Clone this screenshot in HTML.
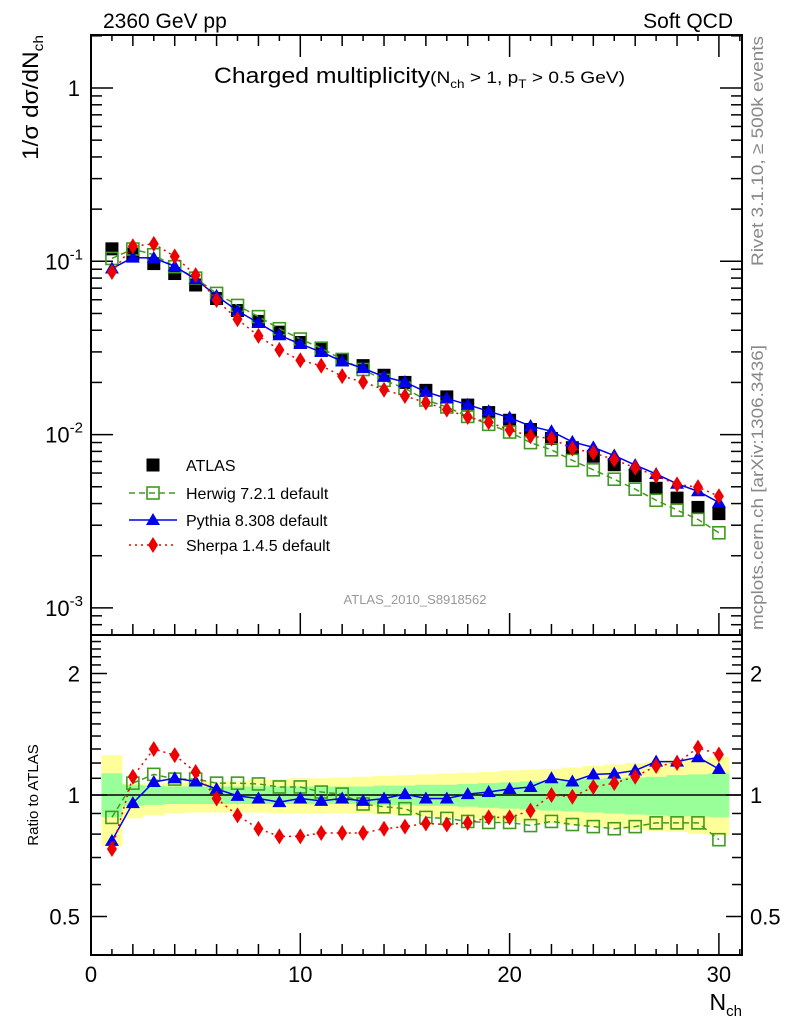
<!DOCTYPE html>
<html><head><meta charset="utf-8"><style>
html,body{margin:0;padding:0;background:#fff;}
svg{display:block;font-family:"Liberation Sans",sans-serif;}
</style></head><body>
<svg id="chart" width="786" height="1024" viewBox="0 0 786 1024" xmlns="http://www.w3.org/2000/svg">
<text x="103" y="28" font-size="21">2360 GeV pp</text>
<text x="733" y="28" font-size="21" text-anchor="end">Soft QCD</text>
<text transform="translate(38,160) rotate(-90)" font-size="22" textLength="125" lengthAdjust="spacingAndGlyphs">1/σ dσ/dN<tspan font-size="14" dy="5">ch</tspan></text>
<text x="214" y="83" font-size="22" textLength="411" lengthAdjust="spacingAndGlyphs">Charged multiplicity<tspan font-size="17">(N</tspan><tspan font-size="12" dy="5">ch</tspan><tspan font-size="17" dy="-5"> &gt; 1, p</tspan><tspan font-size="12" dy="5">T</tspan><tspan font-size="17" dy="-5"> &gt; 0.5 GeV)</tspan></text>
<text transform="translate(763,266) rotate(-90)" font-size="17" fill="#888" textLength="230" lengthAdjust="spacingAndGlyphs">Rivet 3.1.10, ≥ 500k events</text>
<text transform="translate(763,630) rotate(-90)" font-size="17" fill="#888" textLength="285" lengthAdjust="spacingAndGlyphs">mcplots.cern.ch [arXiv:1306.3436]</text>
<text x="415" y="604" font-size="13" fill="#999" text-anchor="middle">ATLAS_2010_S8918562</text>
<text transform="translate(38,795) rotate(-90)" font-size="15" text-anchor="middle">Ratio to ATLAS</text>
<text x="742" y="1010" font-size="23" text-anchor="end">N<tspan font-size="15" dy="6">ch</tspan></text>
<g id="bands"></g><g id="axes"></g><g id="series"></g><g id="legend"></g>
</svg>
<script>
const nch=[1,2,3,4,5,6,7,8,9,10,11,12,13,14,15,16,17,18,19,20,21,22,23,24,25,26,27,28,29,30];
const atlas=[0.118,0.110,0.097,0.085,0.073,0.061,0.052,0.045,0.039,0.034,0.031,0.027,0.025,0.022,0.020,0.018,0.0165,0.0148,0.0134,0.0121,0.0107,0.0095,0.0084,0.0075,0.0067,0.0058,0.0049,0.0043,0.0038,0.0035];
const herwigRatio=[0.88,1.07,1.125,1.095,1.095,1.07,1.07,1.065,1.047,1.047,1.017,1.005,0.95,0.935,0.925,0.88,0.875,0.86,0.855,0.855,0.84,0.86,0.845,0.835,0.825,0.835,0.853,0.853,0.853,0.775];
const pythiaRatio=[0.77,0.955,1.077,1.10,1.08,1.035,0.995,0.98,0.96,0.98,0.967,0.98,0.967,0.98,1.005,0.98,0.98,1.005,1.017,1.035,1.047,1.10,1.08,1.125,1.13,1.15,1.21,1.21,1.24,1.16];
const sherpaRatio=[0.735,1.11,1.30,1.255,1.14,0.98,0.89,0.825,0.79,0.79,0.805,0.805,0.805,0.825,0.835,0.85,0.845,0.853,0.88,0.88,0.915,1.0,0.99,1.047,1.07,1.11,1.18,1.20,1.31,1.26];
const yellowUp=[1.255,1.068,1.07,1.075,1.078,1.08,1.085,1.09,1.095,1.10,1.10,1.105,1.11,1.115,1.12,1.125,1.13,1.135,1.14,1.15,1.155,1.16,1.17,1.18,1.19,1.20,1.21,1.22,1.23,1.243];
const yellowLo=[0.746,0.876,0.89,0.90,0.905,0.905,0.905,0.905,0.90,0.90,0.90,0.90,0.90,0.895,0.89,0.885,0.88,0.875,0.865,0.86,0.855,0.85,0.84,0.835,0.83,0.82,0.815,0.81,0.80,0.792];
const greenUp=[1.131,1.06,1.055,1.05,1.05,1.05,1.05,1.05,1.05,1.05,1.05,1.05,1.05,1.055,1.055,1.06,1.06,1.065,1.07,1.075,1.08,1.085,1.09,1.095,1.10,1.105,1.11,1.12,1.125,1.131];
const greenLo=[0.881,0.94,0.945,0.95,0.95,0.95,0.95,0.95,0.95,0.95,0.95,0.95,0.95,0.945,0.945,0.94,0.94,0.935,0.93,0.925,0.92,0.915,0.91,0.905,0.90,0.895,0.89,0.885,0.885,0.881];
const xTickLabels=[0,10,20,30];
const mainTickLabels=[["1",0],["10","-1"],["10","-2"],["10","-3"]];
const ratioTickLabels=[0.5,1,2];

const NS="http://www.w3.org/2000/svg";
const L=91,R=742,T=35,MB=635,RB=955;
const X=n=>L+n*20.93;
const Ym=v=>88-173.3*Math.log10(v);
const Yr=r=>795-121.5*Math.log2(r);
function mk(tag,attrs,parent){const e=document.createElementNS(NS,tag);for(const k in attrs)e.setAttribute(k,attrs[k]);parent.appendChild(e);return e;}
const bands=document.getElementById('bands'),axes=document.getElementById('axes'),ser=document.getElementById('series'),leg=document.getElementById('legend');

function bandPath(up,lo){let top='',bot='';
 for(let i=0;i<nch.length;i++){const x0=X(nch[i]-0.5),x1=X(nch[i]+0.5);top+=(i?'L':'M')+x0+','+Yr(up[i])+'L'+x1+','+Yr(up[i]);}
 for(let i=nch.length-1;i>=0;i--){const x0=X(nch[i]-0.5),x1=X(nch[i]+0.5);bot+='L'+x1+','+Yr(lo[i])+'L'+x0+','+Yr(lo[i]);}
 return top+bot+'Z';}
let e;
e=mk('path',{d:bandPath(yellowUp,yellowLo),fill:'#ffff99'},bands);


e=mk('path',{d:bandPath(greenUp,greenLo),fill:'#99ff99'},bands);


e=mk('line',{x1:L,x2:R,y1:Yr(1),y2:Yr(1),stroke:'#000','stroke-width':1.5},bands);



e=mk('rect',{x:L,y:T,width:R-L,height:MB-T,fill:'none',stroke:'#000','stroke-width':2},axes);


e=mk('rect',{x:L,y:MB,width:R-L,height:RB-MB,fill:'none',stroke:'#000','stroke-width':2},axes);


for(let n=1;n<=31;n++){const len=n%10==0?22:(n%2==0?11:6);const x=X(n);
 [[MB,-1],[T,1],[RB,-1]].forEach(([y,d])=>{mk('line',{x1:x,x2:x,y1:y,y2:y+d*len,stroke:'#000','stroke-width':1.5},axes);});
}
xTickLabels.forEach(v=>{const t=mk('text',{x:X(v),y:982,'font-size':22,'text-anchor':'middle'},axes);t.textContent=v;
 
 });
for(let d=-4;d<=1;d++){for(let m=1;m<=9;m++){const v=m*Math.pow(10,d);const y=Ym(v);if(y<T||y>MB)continue;const len=m==1?22:11;
 mk('line',{x1:L,x2:L+len,y1:y,y2:y,stroke:'#000','stroke-width':1.5},axes);
 mk('line',{x1:R,x2:R-len,y1:y,y2:y,stroke:'#000','stroke-width':1.5},axes);}}
mainTickLabels.forEach(([b,ex])=>{const y=Ym(Math.pow(10,+ex))+8;const t=mk('text',{x:ex===0?80:83,y:y,'font-size':22,'text-anchor':'end'},axes);
 
 
 if(ex===0){t.textContent=b;}else{t.textContent=b;const s=mk('tspan',{'font-size':15,dy:-10},t);s.textContent=ex;}});
for(let k=4;k<=24;k++){const r=k/10;const y=Yr(r);if(y<MB||y>RB)continue;const len=(r==0.5||r==1||r==2)?16:10;
 mk('line',{x1:L,x2:L+len,y1:y,y2:y,stroke:'#000','stroke-width':1.5},axes);
 mk('line',{x1:R,x2:R-len,y1:y,y2:y,stroke:'#000','stroke-width':1.5},axes);}
ratioTickLabels.forEach(r=>{const y=Yr(r)+8;
 let t=mk('text',{x:80,y:y,'font-size':22,'text-anchor':'end'},axes);t.textContent=r;
 
 
 t=mk('text',{x:750,y:y,'font-size':22},axes);t.textContent=r;
 
 });

function marker(kind,x,y,parent){
 if(kind=='sq')return mk('rect',{x:x-6.5,y:y-6.5,width:13,height:13,fill:'#000'},parent);
 if(kind=='osq')return mk('rect',{x:x-6,y:y-6,width:12,height:12,fill:'none',stroke:'#3f9a1f','stroke-width':1.6},parent);
 if(kind=='tri')return mk('path',{d:`M${x},${y-7}L${x+7},${y+5}L${x-7},${y+5}Z`,fill:'#0000ee'},parent);
 return mk('path',{d:`M${x},${y-8}L${x+5},${y}L${x},${y+8}L${x-5},${y}Z`,fill:'#ee0000'},parent);}
const styles={herwig:['#3f9a1f','6,4','osq'],pythia:['#0000ee','','tri'],sherpa:['#ee0000','2,4','sherpa']};
function series(name,ratio){const [c,da,k]=styles[name];
 const g=mk('g',{},ser);
 
 
 const mp=nch.map((n,i)=>X(n)+','+Ym(ratio[i]*atlas[i])).join(' ');
 const rp=nch.map((n,i)=>X(n)+','+Yr(ratio[i])).join(' ');
 mk('polyline',{points:mp,fill:'none',stroke:c,'stroke-width':1.5,'stroke-dasharray':da},g);
 mk('polyline',{points:rp,fill:'none',stroke:c,'stroke-width':1.5,'stroke-dasharray':da},g);
 nch.forEach((n,i)=>{const m1=marker(k,X(n),Ym(ratio[i]*atlas[i]),g);
  
  
  const m2=marker(k,X(n),Yr(ratio[i]),g);
  
  });}
const ga=mk('g',{},ser);


nch.forEach((n,i)=>{const m=marker('sq',X(n),Ym(atlas[i]),ga);
 
 });
series('herwig',herwigRatio);series('pythia',pythiaRatio);series('sherpa',sherpaRatio);

const entries=[['sq','ATLAS',465,null],['osq','Herwig 7.2.1 default',493,'herwig'],['tri','Pythia 8.308 default',520,'pythia'],['sherpa','Sherpa 1.4.5 default',545,'sherpa']];
entries.forEach(([k,label,y,s])=>{const g=mk('g',{},leg);
 
 
 if(s){const [c,da]=styles[s];mk('line',{x1:129,x2:177,y1:y,y2:y,stroke:c,'stroke-width':1.5,'stroke-dasharray':da},g);}
 marker(k,153,y,g);
 const t=mk('text',{x:186,y:y+6,'font-size':16},g);t.textContent=label;});
</script>
</body></html>
